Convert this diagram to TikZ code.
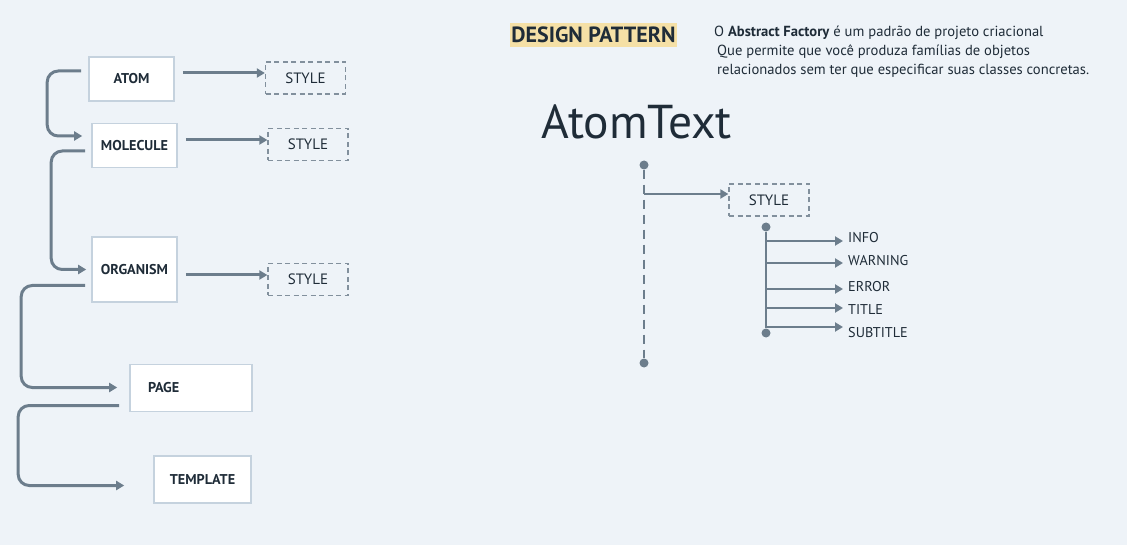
\documentclass[tikz,border=0pt]{standalone}
\usepackage{fontspec}
\setmainfont{PT Sans}
\usetikzlibrary{arrows.meta,positioning,calc}
\definecolor{bgpaper}{RGB}{238,243,248}
\definecolor{linegray}{RGB}{108,125,140}
\definecolor{boxedge}{RGB}{197,210,222}
\definecolor{inkdark}{RGB}{31,44,56}
\definecolor{tagyellow}{RGB}{245,224,166}

\begin{document}
\begin{tikzpicture}[
    x=1pt, y=-1pt,
    flow/.style={-{Triangle[length=8pt,width=9pt]}, line width=3pt, draw=linegray},
    elbow/.style={flow, rounded corners=11pt},
    level/.style={draw=boxedge, line width=1.6pt, fill=white, text=inkdark,
      font=\bfseries\fontsize{14.2}{16}\selectfont, inner sep=0pt},
    stylebox/.style={draw=linegray!85, line width=1.3pt, dash pattern=on 5pt off 3.5pt,
      minimum width=80pt, minimum height=32pt, text=inkdark,
      font=\fontsize{15}{17}\selectfont, inner sep=0pt},
    dot/.style={circle, fill=linegray, minimum size=9pt, inner sep=0pt},
    leaf/.style={anchor=west, inner sep=0pt, text=inkdark, font=\fontsize{14.2}{16}\selectfont}
  ]
  \fill[bgpaper] (0,0) rectangle (1127,545);
  \useasboundingbox (0,0) rectangle (1127,545);

  % levels
  \node[level, minimum width=85pt, minimum height=44pt] (atom) at (131.5,79) {ATOM};
  \node[level, minimum width=85pt, minimum height=44pt] (molecule) at (134.5,145.5) {MOLECULE};
  \node[level, minimum width=85pt, minimum height=65pt] (organism) at (134.5,269.5) {ORGANISM};
  \node[level, minimum width=122pt, minimum height=47pt, text width=86pt, inner xsep=18pt,
    align=left] (page) at (191,388) {PAGE};
  \node[level, minimum width=97pt, minimum height=47pt] (template) at (202.5,479.5) {TEMPLATE};

  \draw[elbow] ($(atom.west)+(-7,-8)$) -- ++(-34,0) |- ($(molecule.west)+(-9,-9.5)$);
  \draw[elbow] ($(molecule.west)+(-6,5.5)$) -- ++(-34,0) |- ($(organism.west)+(-5,0)$);
  \draw[elbow] ($(organism.west)+(-6,16)$) -- ++(-64,0) |- ($(page.west)+(-12,-0.5)$);
  \draw[elbow] ($(page.west)+(-10,17.5)$) -- ++(-101,0) |- ($(template.west)+(-29,6)$);

  % styles
  \node[stylebox] (atomstyle) at (305.5,78) {STYLE};
  \node[stylebox] (moleculestyle) at (308,144.5) {STYLE};
  \node[stylebox] (organismstyle) at (308,279.5) {STYLE};
  \draw[flow] ($(atom.east)+(8,-6)$) -- ($(atomstyle.west)+(0,-5)$);
  \draw[flow] ($(molecule.east)+(8,-5.5)$) -- ($(moleculestyle.west)+(0,-4.5)$);
  \draw[flow] ($(organism.east)+(8,5.5)$) -- ($(organismstyle.west)+(0,-4.5)$);

  % header
  \node[fill=tagyellow, minimum width=167pt, minimum height=24pt, inner sep=0pt, text=inkdark,
    font=\bfseries\fontsize{22}{24}\selectfont] (pattern) at (593.5,35) {DESIGN PATTERN};
  \node[anchor=north west, align=left, inner sep=0pt, text=inkdark,
    font=\fontsize{14.6}{19}\selectfont] (summary) at (714,26)
    {O \textbf{Abstract Factory} é um padrão de projeto criacional\\
     \hspace*{3pt}Que permite que você produza famílias de objetos\\
     \hspace*{3pt}relacionados sem ter que especificar suas classes concretas.};

  % component
  \node[anchor=base west, inner sep=0pt, text=inkdark, font=\fontsize{47.5}{52}\selectfont]
    (component) at (541,139) {AtomText};
  \node[dot] (tracetop) at (644,165) {};
  \node[dot] (tracebottom) at (644,363) {};
  \draw[line width=2.8pt, draw=linegray, dash pattern=on 9pt off 6pt] (tracetop) -- (tracebottom);
  \coordinate (stylefork) at (644,194);
  \node[stylebox] (textstyle) at (769,200) {STYLE};
  \draw[flow, line width=2.5pt] (stylefork) -- ($(textstyle.west)+(0,-6)$);

  \node[dot] (varianttop) at (766,227) {};
  \node[dot] (variantbottom) at (766,333) {};
  \draw[line width=2.8pt, draw=linegray] (varianttop) -- (variantbottom);
  \foreach \name/\ly/\by in {INFO/238/241, WARNING/261/263, ERROR/287/289,
      TITLE/310/308, SUBTITLE/333/327} {
    \node[leaf] (\name) at (848,\ly) {\name};
    \draw[flow, line width=2.5pt] (766,\by) -- ($(\name.west)+(-5,\by-\ly)$);
  }
\end{tikzpicture}
\end{document}
